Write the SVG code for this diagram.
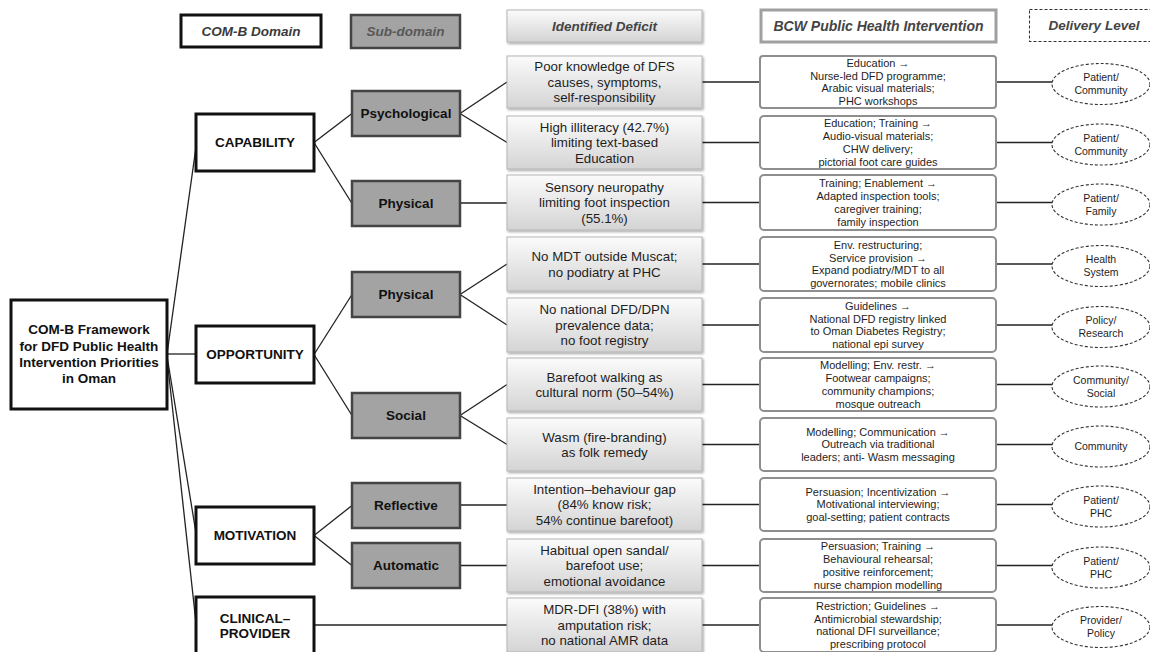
<svg xmlns="http://www.w3.org/2000/svg" width="1150" height="652" viewBox="0 0 1150 652">
<defs>
<linearGradient id="gDef" x1="0" y1="0" x2="0" y2="1">
<stop offset="0" stop-color="#fbfbfb"/>
<stop offset="1" stop-color="#d4d4d4"/>
</linearGradient>
<filter id="sh" x="-5%" y="-10%" width="112%" height="130%">
<feDropShadow dx="1.2" dy="1.5" stdDeviation="0.8" flood-color="#000" flood-opacity="0.35"/>
</filter>
<style>
text{font-family:"Liberation Sans",Arial,sans-serif;text-anchor:middle;fill:#1a1a1a}
.hdr{font-weight:bold;font-style:italic;font-size:13.5px;fill:#3a3a3a}
.bold{font-weight:bold;font-size:13.5px;fill:#111}
.dt{font-size:13.3px;fill:#1e1e1e}
.bt{font-size:11px;fill:#1e1e1e}
.et{font-size:10.5px;fill:#1e1e1e}
.dom{fill:#fff;stroke:#111;stroke-width:3}
.sub{fill:#a3a3a3;stroke:#444;stroke-width:2.5}
.def{fill:url(#gDef);stroke:#b5b5b5;stroke-width:1;filter:url(#sh)}
.bcw{fill:#fff;stroke:#8e8e8e;stroke-width:2}
.ell{fill:#fff;stroke:#333;stroke-width:1.1;stroke-dasharray:3 2}
.c line{stroke:#222;stroke-width:1.3}
</style>
</defs>
<rect width="1150" height="652" fill="#fff"/>

<g id="legend">
<g id="h-domain"><rect x="181" y="15" width="140" height="32" class="dom"/><text x="251" y="35.6" class="hdr">COM-B Domain</text></g>
<g id="h-sub"><rect x="351" y="15" width="109" height="33" class="sub"/><text x="405.5" y="36.1" class="hdr" style="fill:#585858">Sub-domain</text></g>
<g id="h-def"><rect x="507" y="10" width="195" height="32" class="def"/><text x="604.5" y="30.7" class="hdr" style="fill:#444">Identified Deficit</text></g>
<g id="h-bcw"><rect x="761" y="10" width="235" height="32" fill="#fff" stroke="#a0a0a0" stroke-width="3"/><text x="878.5" y="30.9" class="hdr" style="fill:#444;font-size:14px">BCW Public Health Intervention</text></g>
<g id="h-del"><rect x="1029.5" y="9.5" width="125" height="32" fill="#fff" stroke="#333" stroke-width="1.1" stroke-dasharray="3 2"/><text x="1094" y="30.2" class="hdr" style="fill:#444">Delivery Level</text></g>
</g>

<g class="c" id="connectors">
<line x1="167" y1="354" x2="196" y2="147"/>
<line x1="167" y1="354" x2="196" y2="354"/>
<line x1="167" y1="356" x2="196" y2="533"/>
<line x1="167" y1="358" x2="196" y2="623"/>
<line x1="314" y1="142.5" x2="352" y2="113.5"/>
<line x1="314" y1="142.5" x2="352" y2="203.5"/>
<line x1="314" y1="354.5" x2="352" y2="294.5"/>
<line x1="314" y1="354.5" x2="352" y2="415.5"/>
<line x1="314" y1="535.5" x2="352" y2="505.5"/>
<line x1="314" y1="535.5" x2="352" y2="565.5"/>
<line x1="314" y1="625" x2="507" y2="625"/>
<line x1="460" y1="113.5" x2="507" y2="82"/>
<line x1="460" y1="113.5" x2="507" y2="142.5"/>
<line x1="460" y1="203" x2="507" y2="203"/>
<line x1="460" y1="294.5" x2="507" y2="264"/>
<line x1="460" y1="294.5" x2="507" y2="325"/>
<line x1="460" y1="415.5" x2="507" y2="384.5"/>
<line x1="460" y1="415.5" x2="507" y2="444.5"/>
<line x1="460" y1="505" x2="507" y2="505"/>
<line x1="460" y1="565.5" x2="507" y2="565.5"/>
<line x1="702" y1="82" x2="760" y2="82"/>
<line x1="702" y1="142.5" x2="760" y2="142.5"/>
<line x1="702" y1="202.5" x2="760" y2="202.5"/>
<line x1="702" y1="264" x2="760" y2="264"/>
<line x1="702" y1="325" x2="760" y2="325"/>
<line x1="702" y1="384.5" x2="760" y2="384.5"/>
<line x1="702" y1="444.5" x2="760" y2="444.5"/>
<line x1="702" y1="504.5" x2="760" y2="504.5"/>
<line x1="702" y1="565.5" x2="760" y2="565.5"/>
<line x1="702" y1="625" x2="760" y2="625"/>
<line x1="996" y1="82" x2="1052" y2="82"/>
<line x1="996" y1="142.5" x2="1052" y2="142.5"/>
<line x1="996" y1="202.5" x2="1052" y2="202.5"/>
<line x1="996" y1="264" x2="1052" y2="264"/>
<line x1="996" y1="325" x2="1052" y2="325"/>
<line x1="996" y1="384.5" x2="1052" y2="384.5"/>
<line x1="996" y1="444.5" x2="1052" y2="444.5"/>
<line x1="996" y1="504.5" x2="1052" y2="504.5"/>
<line x1="996" y1="565.5" x2="1052" y2="565.5"/>
<line x1="996" y1="625" x2="1052" y2="625"/>
</g>

<g id="root"><rect x="11" y="300" width="156" height="109" class="dom"/>
<text class="bold"><tspan x="89" y="334.3">COM-B Framework</tspan><tspan x="89" y="350.6">for DFD Public Health</tspan><tspan x="89" y="366.9">Intervention Priorities</tspan><tspan x="89" y="383.2">in Oman</tspan></text></g>

<g id="capability"><rect x="196" y="114" width="118" height="57" class="dom"/><text x="255" y="147.3" class="bold">CAPABILITY</text></g>
<g id="opportunity"><rect x="196" y="326" width="118" height="57" class="dom"/><text x="255" y="359.3" class="bold">OPPORTUNITY</text></g>
<g id="motivation"><rect x="196" y="507" width="118" height="57" class="dom"/><text x="255" y="540.3" class="bold">MOTIVATION</text></g>
<g id="clinical"><rect x="196" y="597" width="118" height="60" class="dom"/><text class="bold"><tspan x="255" y="622.8">CLINICAL–</tspan><tspan x="255" y="637.8">PROVIDER</tspan></text></g>

<g id="sub-psych"><rect x="352" y="91" width="108" height="45" class="sub"/><text x="406" y="118.3" class="bold">Psychological</text></g>
<g id="sub-phys-cap"><rect x="352" y="181" width="108" height="45" class="sub"/><text x="406" y="208.3" class="bold">Physical</text></g>
<g id="sub-phys-opp"><rect x="352" y="272" width="108" height="45" class="sub"/><text x="406" y="299.3" class="bold">Physical</text></g>
<g id="sub-social"><rect x="352" y="393" width="108" height="45" class="sub"/><text x="406" y="420.3" class="bold">Social</text></g>
<g id="sub-reflective"><rect x="352" y="483" width="108" height="45" class="sub"/><text x="406" y="510.3" class="bold">Reflective</text></g>
<g id="sub-automatic"><rect x="352" y="543" width="108" height="45" class="sub"/><text x="406" y="570.3" class="bold">Automatic</text></g>

<g id="def1"><rect x="507" y="56" width="195" height="52" class="def"/><text class="dt"><tspan x="604.5" y="71.2">Poor knowledge of DFS</tspan><tspan x="604.5" y="86.7">causes, symptoms,</tspan><tspan x="604.5" y="102.2">self-responsibility</tspan></text></g>
<g id="def2"><rect x="507" y="116" width="195" height="53" class="def"/><text class="dt"><tspan x="604.5" y="131.7">High illiteracy (42.7%)</tspan><tspan x="604.5" y="147.2">limiting text-based</tspan><tspan x="604.5" y="162.7">Education</tspan></text></g>
<g id="def3"><rect x="507" y="175" width="195" height="55" class="def"/><text class="dt"><tspan x="604.5" y="191.7">Sensory neuropathy</tspan><tspan x="604.5" y="207.2">limiting foot inspection</tspan><tspan x="604.5" y="222.7">(55.1%)</tspan></text></g>
<g id="def4"><rect x="507" y="237" width="195" height="54" class="def"/><text class="dt"><tspan x="604.5" y="261">No MDT outside Muscat;</tspan><tspan x="604.5" y="276.5">no podiatry at PHC</tspan></text></g>
<g id="def5"><rect x="507" y="298" width="195" height="54" class="def"/><text class="dt"><tspan x="604.5" y="314.2">No national DFD/DPN</tspan><tspan x="604.5" y="329.7">prevalence data;</tspan><tspan x="604.5" y="345.2">no foot registry</tspan></text></g>
<g id="def6"><rect x="507" y="358" width="195" height="53" class="def"/><text class="dt"><tspan x="604.5" y="381.5">Barefoot walking as</tspan><tspan x="604.5" y="397">cultural norm (50–54%)</tspan></text></g>
<g id="def7"><rect x="507" y="418" width="195" height="53" class="def"/><text class="dt"><tspan x="604.5" y="441.5">Wasm (fire-branding)</tspan><tspan x="604.5" y="457">as folk remedy</tspan></text></g>
<g id="def8"><rect x="507" y="478" width="195" height="53" class="def"/><text class="dt"><tspan x="604.5" y="493.7">Intention–behaviour gap</tspan><tspan x="604.5" y="509.2">(84% know risk;</tspan><tspan x="604.5" y="524.7">54% continue barefoot)</tspan></text></g>
<g id="def9"><rect x="507" y="539" width="195" height="53" class="def"/><text class="dt"><tspan x="604.5" y="554.7">Habitual open sandal/</tspan><tspan x="604.5" y="570.2">barefoot use;</tspan><tspan x="604.5" y="585.7">emotional avoidance</tspan></text></g>
<g id="def10"><rect x="507" y="598" width="195" height="54" class="def"/><text class="dt"><tspan x="604.5" y="614.2">MDR-DFI (38%) with</tspan><tspan x="604.5" y="629.7">amputation risk;</tspan><tspan x="604.5" y="645.2">no national AMR data</tspan></text></g>

<g id="bcw1"><rect x="760" y="56" width="236" height="52" rx="3" class="bcw"/><text class="bt"><tspan x="878" y="66.7">Education →</tspan><tspan x="878" y="79.5">Nurse-led DFD programme;</tspan><tspan x="878" y="92.3">Arabic visual materials;</tspan><tspan x="878" y="105.1">PHC workshops</tspan></text></g>
<g id="bcw2"><rect x="760" y="116" width="236" height="53" rx="4" class="bcw"/><text class="bt"><tspan x="878" y="127.2">Education; Training →</tspan><tspan x="878" y="140">Audio-visual materials;</tspan><tspan x="878" y="152.8">CHW delivery;</tspan><tspan x="878" y="165.6">pictorial foot care guides</tspan></text></g>
<g id="bcw3"><rect x="760" y="175" width="236" height="55" rx="4" class="bcw"/><text class="bt"><tspan x="878" y="187.2">Training; Enablement →</tspan><tspan x="878" y="200">Adapted inspection tools;</tspan><tspan x="878" y="212.8">caregiver training;</tspan><tspan x="878" y="225.6">family inspection</tspan></text></g>
<g id="bcw4"><rect x="760" y="237" width="236" height="54" rx="4" class="bcw"/><text class="bt"><tspan x="878" y="248.7">Env. restructuring;</tspan><tspan x="878" y="261.5">Service provision →</tspan><tspan x="878" y="274.3">Expand podiatry/MDT to all</tspan><tspan x="878" y="287.1">governorates; mobile clinics</tspan></text></g>
<g id="bcw5"><rect x="760" y="298" width="236" height="54" rx="4" class="bcw"/><text class="bt"><tspan x="878" y="309.7">Guidelines →</tspan><tspan x="878" y="322.5">National DFD registry linked</tspan><tspan x="878" y="335.3">to Oman Diabetes Registry;</tspan><tspan x="878" y="348.1">national epi survey</tspan></text></g>
<g id="bcw6"><rect x="760" y="358" width="236" height="53" rx="4" class="bcw"/><text class="bt"><tspan x="878" y="369.2">Modelling; Env. restr. →</tspan><tspan x="878" y="382">Footwear campaigns;</tspan><tspan x="878" y="394.8">community champions;</tspan><tspan x="878" y="407.6">mosque outreach</tspan></text></g>
<g id="bcw7"><rect x="760" y="418" width="236" height="53" rx="4" class="bcw"/><text class="bt"><tspan x="878" y="435.6">Modelling; Communication →</tspan><tspan x="878" y="448.4">Outreach via traditional</tspan><tspan x="878" y="461.2">leaders; anti- Wasm messaging</tspan></text></g>
<g id="bcw8"><rect x="760" y="478" width="236" height="53" rx="4" class="bcw"/><text class="bt"><tspan x="878" y="495.6">Persuasion; Incentivization →</tspan><tspan x="878" y="508.4">Motivational interviewing;</tspan><tspan x="878" y="521.2">goal-setting; patient contracts</tspan></text></g>
<g id="bcw9"><rect x="760" y="539" width="236" height="53" rx="4" class="bcw"/><text class="bt"><tspan x="878" y="550.2">Persuasion; Training →</tspan><tspan x="878" y="563">Behavioural rehearsal;</tspan><tspan x="878" y="575.8">positive reinforcement;</tspan><tspan x="878" y="588.6">nurse champion modelling</tspan></text></g>
<g id="bcw10"><rect x="760" y="598" width="236" height="54" rx="4" class="bcw"/><text class="bt"><tspan x="878" y="609.7">Restriction; Guidelines →</tspan><tspan x="878" y="622.5">Antimicrobial stewardship;</tspan><tspan x="878" y="635.3">national DFI surveillance;</tspan><tspan x="878" y="648.1">prescribing protocol</tspan></text></g>

<g id="lvl1"><ellipse cx="1101" cy="84" rx="49" ry="20.5" class="ell"/><text class="et"><tspan x="1101" y="81.2">Patient/</tspan><tspan x="1101" y="94.2">Community</tspan></text></g>
<g id="lvl2"><ellipse cx="1101" cy="144.5" rx="49" ry="20.5" class="ell"/><text class="et"><tspan x="1101" y="141.7">Patient/</tspan><tspan x="1101" y="154.7">Community</tspan></text></g>
<g id="lvl3"><ellipse cx="1101" cy="204.5" rx="49" ry="20.5" class="ell"/><text class="et"><tspan x="1101" y="201.7">Patient/</tspan><tspan x="1101" y="214.7">Family</tspan></text></g>
<g id="lvl4"><ellipse cx="1101" cy="266" rx="49" ry="20.5" class="ell"/><text class="et"><tspan x="1101" y="263.2">Health</tspan><tspan x="1101" y="276.2">System</tspan></text></g>
<g id="lvl5"><ellipse cx="1101" cy="327" rx="49" ry="20.5" class="ell"/><text class="et"><tspan x="1101" y="324.2">Policy/</tspan><tspan x="1101" y="337.2">Research</tspan></text></g>
<g id="lvl6"><ellipse cx="1101" cy="386.5" rx="49" ry="20.5" class="ell"/><text class="et"><tspan x="1101" y="383.7">Community/</tspan><tspan x="1101" y="396.7">Social</tspan></text></g>
<g id="lvl7"><ellipse cx="1101" cy="446.5" rx="49" ry="20.5" class="ell"/><text x="1101" y="450.2" class="et">Community</text></g>
<g id="lvl8"><ellipse cx="1101" cy="506.5" rx="49" ry="20.5" class="ell"/><text class="et"><tspan x="1101" y="503.7">Patient/</tspan><tspan x="1101" y="516.7">PHC</tspan></text></g>
<g id="lvl9"><ellipse cx="1101" cy="567.5" rx="49" ry="20.5" class="ell"/><text class="et"><tspan x="1101" y="564.7">Patient/</tspan><tspan x="1101" y="577.7">PHC</tspan></text></g>
<g id="lvl10"><ellipse cx="1101" cy="627" rx="49" ry="20.5" class="ell"/><text class="et"><tspan x="1101" y="624.2">Provider/</tspan><tspan x="1101" y="637.2">Policy</tspan></text></g>
</svg>
